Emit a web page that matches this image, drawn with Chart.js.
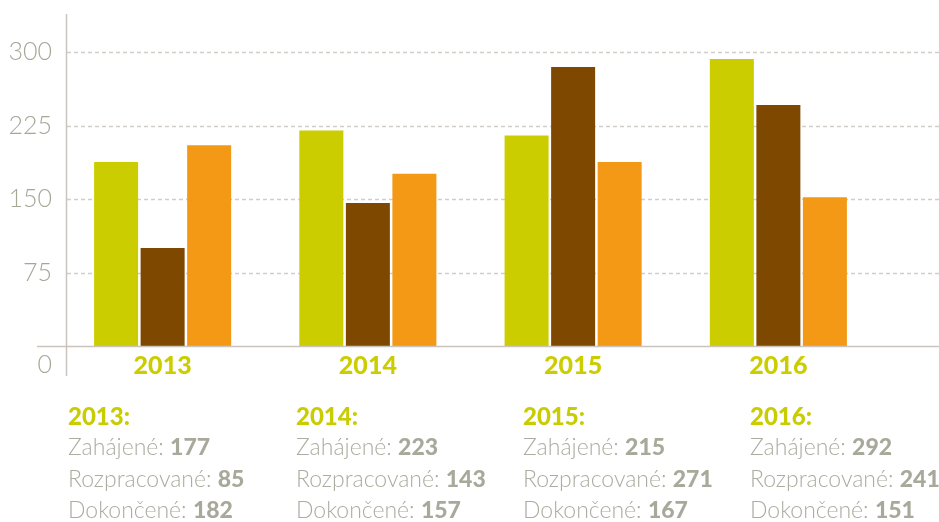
<!DOCTYPE html>
<html>
<head>
<meta charset="utf-8">
<script src="https://cdn.jsdelivr.net/npm/chart.js@4/dist/chart.umd.min.js"></script>
<style>
  html, body { margin: 0; padding: 0; background: #fff; overflow: hidden; }
  #wrap { position: relative; width: 939px; height: 522px; }
  #chart { position: absolute; left: 0; top: 0; }
  .col { position: absolute; top: 400px; font-family: 'Lato', sans-serif; font-size: 23px; line-height: 31.3px; white-space: nowrap; }
  .col .yr { color: #c9cc00; font-weight: 900; font-size: 24px; }
  .col .lbl { color: #acaca0; font-weight: 300; }
  .col .val { color: #a9a99b; font-weight: 900; }
</style>
</head>
<body>
<div id="wrap">
  <canvas id="chart" width="939" height="522"></canvas>
  <div id="summary"></div>
</div>
<script>
// ---- data ----
const categories = ['2013', '2014', '2015', '2016'];
const zahajene = [188, 220, 215, 293];       // bar heights
const rozpracovane = [100, 146, 285, 246];
const dokoncene = [205, 176, 188, 152];
const yTicks = [0, 75, 150, 225, 300];
const yMax = 339;
// summary texts printed under the chart
const summaryNames = ['Zahájené', 'Rozpracované', 'Dokončené'];
const summaryZahajene = [177, 223, 215, 292];
const summaryRozpracovane = [85, 143, 271, 241];
const summaryDokoncene = [182, 157, 167, 151];
const summaryX = [68, 296, 523, 750];

// ---- summary block ----
const summary = document.getElementById('summary');
categories.forEach((c, i) => {
  const d = document.createElement('div');
  d.className = 'col';
  d.style.left = summaryX[i] + 'px';
  const vals = [summaryZahajene[i], summaryRozpracovane[i], summaryDokoncene[i]];
  let html = '<div class="yr">' + c + ':</div>';
  summaryNames.forEach((n, k) => {
    html += '<div><span class="lbl">' + n + ': </span><span class="val">' + vals[k] + '</span></div>';
  });
  d.innerHTML = html;
  summary.appendChild(d);
});

// ---- custom axis drawing ----
const axisPlugin = {
  id: 'axisPlugin',
  beforeDatasetsDraw(chart) {
    const ctx = chart.ctx;
    const y = chart.scales.y;
    const W = chart.width;
    ctx.save();
    ctx.strokeStyle = '#d3cdc7';
    ctx.lineWidth = 1.5;
    ctx.setLineDash([4, 3]);
    yTicks.forEach(v => {
      if (v === 0) return;
      const py = Math.round(y.getPixelForValue(v)) + 0.5;
      ctx.beginPath();
      ctx.moveTo(67, py);
      ctx.lineTo(W, py);
      ctx.stroke();
    });
    ctx.restore();
  },
  afterDatasetsDraw(chart) {
    const ctx = chart.ctx;
    const y = chart.scales.y;
    const W = chart.width;
    const y0 = y.getPixelForValue(0);
    ctx.save();
    ctx.strokeStyle = '#cbc4be';
    ctx.lineWidth = 1.5;
    ctx.beginPath();
    ctx.moveTo(37, y0 + 0.5);
    ctx.lineTo(W, y0 + 0.5);
    ctx.stroke();
    ctx.beginPath();
    ctx.moveTo(66.5, 14);
    ctx.lineTo(66.5, 376);
    ctx.stroke();
    // zero label, set below the baseline as in the original
    ctx.fillStyle = '#a6a797';
    ctx.font = '300 25px Lato';
    ctx.textAlign = 'right';
    ctx.textBaseline = 'middle';
    ctx.fillText(String(yTicks[0]), 52, y0 + 19);
    ctx.restore();
  }
};

function draw() {
  new Chart(document.getElementById('chart'), {
    type: 'bar',
    data: {
      labels: categories,
      datasets: [
        { label: 'Zahájené', data: zahajene, backgroundColor: '#cccd00' },
        { label: 'Rozpracované', data: rozpracovane, backgroundColor: '#7f4800' },
        { label: 'Dokončené', data: dokoncene, backgroundColor: '#f39915' }
      ]
    },
    options: {
      responsive: false,
      animation: false,
      layout: { padding: { top: 14, right: 58, left: 0, bottom: 0 } },
      plugins: { legend: { display: false }, tooltip: { enabled: false } },
      datasets: { bar: { categoryPercentage: 0.68, barPercentage: 0.946 } },
      scales: {
        x: {
          grid: { display: false, drawTicks: false },
          border: { display: false },
          ticks: { color: '#cccd00', padding: 5, font: { family: 'Lato', size: 25, weight: '900' } },
          afterFit(s) { s.height = 522 - 346; s.paddingLeft = 0; s.paddingRight = 0; }
        },
        y: {
          min: 0,
          max: yMax,
          grid: { display: false, drawTicks: false },
          border: { display: false },
          afterBuildTicks(s) { s.ticks = yTicks.map(v => ({ value: v })); },
          ticks: {
            color: '#a6a797',
            padding: 8,
            font: { family: 'Lato', size: 25, weight: '300' },
            callback: (v) => (v === 0 ? '' : String(v))
          },
          afterFit(s) { s.width = 60; s.paddingTop = 0; s.paddingBottom = 0; }
        }
      }
    },
    plugins: [axisPlugin]
  });
}

Promise.all([
  document.fonts.load('300 25px Lato'),
  document.fonts.load('900 25px Lato')
]).then(draw, draw);
</script>
</body>
</html>
